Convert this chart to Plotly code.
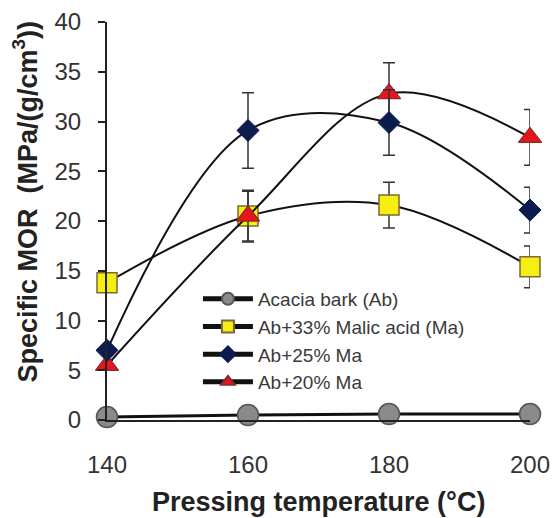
import plotly.graph_objects as go

# Pressing temperatures (°C)
temperature = [140, 160, 180, 200]

# Specific MOR (MPa/(g/cm^3)) and standard deviations
acacia_bark = [0.3, 0.5, 0.6, 0.6]
acacia_bark_sd = [0.5, 0.5, 0.5, 0.5]

ma33 = [13.8, 20.5, 21.6, 15.4]
ma33_sd = [0.6, 2.5, 2.3, 2.1]

ma25 = [7.0, 29.1, 29.9, 21.1]
ma25_sd = [0.5, 3.8, 3.3, 2.3]

ma20 = [5.5, 20.5, 32.8, 28.4]
ma20_sd = [0.5, 2.6, 3.1, 2.8]

series_names = [
    "Acacia bark (Ab)",
    "Ab+33% Malic acid (Ma)",
    "Ab+25% Ma",
    "Ab+20% Ma",
]

x_ticks = [140, 160, 180, 200]
y_ticks = [0, 5, 10, 15, 20, 25, 30, 35, 40]

x_title = "<b>Pressing temperature (°C)</b>"
y_title = "<b>Specific MOR  (MPa/(g/cm<sup>3</sup>))</b>"

FONT = "Liberation Sans, Arial, sans-serif"
err_style = dict(type="data", thickness=1.5, width=6, color="#333333", visible=True)

fig = go.Figure()

# (values, sd, name, legend rank, marker style, line width)
series = [
    (acacia_bark, acacia_bark_sd, series_names[0], 1,
     dict(symbol="circle", size=21, color="#8a8a8a", line=dict(color="#555555", width=1.5)), 3),
    (ma33, ma33_sd, series_names[1], 2,
     dict(symbol="square", size=20, color="#f5ee10", line=dict(color="#7a6a3a", width=1.5)), 2),
    (ma20, ma20_sd, series_names[3], 4,
     dict(symbol="triangle-up", size=20, color="#e8161c", line=dict(color="#8a2a2a", width=1.2)), 2),
    (ma25, ma25_sd, series_names[2], 3,
     dict(symbol="diamond", size=17, color="#0c1c4e", line=dict(color="#0c1c4e", width=1)), 2),
]

for vals, sd, name, rank, marker, lw in series:
    fig.add_trace(go.Scatter(
        x=temperature, y=vals, name=name, legendrank=rank,
        mode="lines+markers",
        line=dict(color="#111111", width=lw, shape="spline", smoothing=1),
        marker=marker,
        error_y=dict(array=sd, **err_style),
        cliponaxis=False,
    ))

# Axis titles placed as paper-anchored annotations
fig.add_annotation(text=x_title, xref="paper", yref="paper",
                   x=0.50, y=-0.205, xanchor="center", yanchor="middle",
                   showarrow=False, font=dict(size=27, color="#222222", family=FONT))
fig.add_annotation(text=y_title, xref="paper", yref="paper",
                   x=-0.193, y=0.55, xanchor="center", yanchor="middle", textangle=-90,
                   showarrow=False, font=dict(size=27, color="#222222", family=FONT))

fig.update_layout(
    width=552, height=518,
    margin=dict(l=107, r=22, t=22, b=98, autoexpand=False),
    paper_bgcolor="white", plot_bgcolor="white",
    font=dict(family=FONT, color="#333333"),
    showlegend=True,
    legend=dict(
        x=0.215, y=0.352, xanchor="left", yanchor="top",
        bgcolor="rgba(0,0,0,0)", itemsizing="constant", itemwidth=50,
        font=dict(size=19, color="#3a3a3a", family=FONT),
        tracegroupgap=0,
    ),
    xaxis=dict(
        range=[140, 200], tickvals=x_ticks, ticks="",
        showgrid=False, zeroline=False, automargin=False,
        showline=True, linecolor="#222222", linewidth=2,
        tickfont=dict(size=24, color="#333333"),
        ticklabelstandoff=22,
    ),
    yaxis=dict(
        range=[0, 40], tickvals=y_ticks, ticks="outside", ticklen=7,
        tickwidth=2, tickcolor="#222222",
        showgrid=False, zeroline=False, automargin=False,
        showline=True, linecolor="#222222", linewidth=2,
        tickfont=dict(size=24, color="#333333"),
        ticklabelstandoff=12,
    ),
)

fig.write_html("out.html")
